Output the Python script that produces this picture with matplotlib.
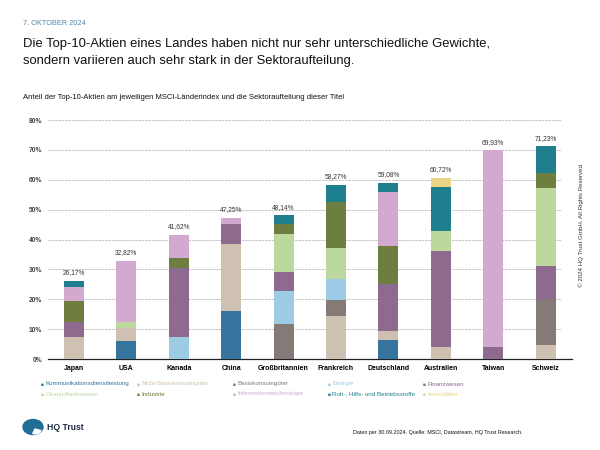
import matplotlib.pyplot as plt
import matplotlib.patches as mpatches
import numpy as np

plt.rcParams["font.family"] = ["Liberation Sans", "DejaVu Sans"]

countries = ["Japan", "USA", "Kanada", "China", "Großbritannien", "Frankreich",
             "Deutschland", "Australien", "Taiwan", "Schweiz"]
totals = [26.17, 32.82, 41.62, 47.25, 48.14, 58.27, 59.08, 60.72, 69.93, 71.23]

# Sektoranteile in Prozentpunkten (von unten nach oben gestapelt)
kommunikation = [0, 5.9, 0, 16.1, 0, 0, 6.4, 0, 0, 0]
nicht_basis   = [7.5, 4.5, 0, 22.3, 0, 14.3, 3.1, 3.9, 0, 4.6]
basis         = [0, 0, 0, 0, 11.7, 5.5, 0, 0, 0, 15.4]
energie       = [0, 0, 7.3, 0, 11.2, 7.0, 0, 0, 0, 0]
finanz        = [4.9, 0, 23.0, 6.8, 6.3, 0, 15.6, 32.1, 3.9, 11.1]
gesundheit    = [0, 2.1, 0, 0, 12.6, 10.2, 0, 7.0, 0, 26.0]
industrie     = [7.1, 0, 3.5, 0, 3.4, 15.6, 12.8, 0, 0, 5.3]
it            = [4.7, 20.32, 7.82, 2.05, 0, 0, 18.0, 0, 66.03, 0]
roh           = [1.97, 0, 0, 0, 2.94, 5.67, 3.18, 14.5, 0, 8.83]
immobilien    = [0, 0, 0, 0, 0, 0, 0, 3.22, 0, 0]

sectors = ["Kommunikationsdienstleistung", "Nicht-Basiskonsumgüter", "Basiskonsumgüter",
           "Energie", "Finanzwesen", "Gesundheitswesen", "Industrie",
           "Informationstechnologie", "Roh-, Hilfs- und Betriebsstoffe", "Immobilien"]
values = [kommunikation, nicht_basis, basis, energie, finanz, gesundheit,
          industrie, it, roh, immobilien]
colors = ["#37749d", "#cfc1b1", "#857a78", "#9dcbe3", "#8f6a8f",
          "#bdd89d", "#6e7e3e", "#d4a9cf", "#1f7f8f", "#e9d585"]

fig = plt.figure(figsize=(6, 4.5), dpi=100)
ax = fig.add_axes([0.0797, 0.2022, 0.8733, 0.5311])

x = np.arange(len(countries))
bottom = np.zeros(len(countries))
for vals, col in zip(values, colors):
    vals = np.array(vals)
    ax.bar(x, vals, 0.38, bottom=bottom, color=col, zorder=3)
    bottom += vals

for xi, t in zip(x, totals):
    ax.text(xi, t + 1.5, f"{t:.2f}%".replace(".", ","), ha="center", va="bottom",
            fontsize=4.8, color="#333333")

ax.set_xlim(-0.5, 9.5)
ax.set_ylim(0, 80)
ax.hlines(np.arange(10, 81, 10), -0.5, 9.3, color="#bbbbbb", lw=0.6,
          linestyles=(0, (3, 1)), zorder=1)
ax.set_yticks(np.arange(0, 81, 10))
ax.set_yticklabels([f"{v}%" for v in range(0, 81, 10)], fontsize=4.8, fontweight="bold",
                   color="#444444")
ax.set_xticks(x)
ax.set_xticklabels(countries, fontsize=5, fontweight="bold")
ax.tick_params(length=0, pad=4)
ax.tick_params(axis="y", pad=4)
for s in ["top", "right", "left"]:
    ax.spines[s].set_visible(False)
ax.spines["bottom"].set_color("#222222")
ax.spines["bottom"].set_linewidth(0.9)

# Legende: zwei Zeilen, fünf Spalten, Text in Serienfarbe
col_x = [40.7, 137, 233, 328, 423]
row_y = [384, 394]
for i, (name, col) in enumerate(zip(sectors, colors)):
    px = col_x[i % 5] / 600
    py = 1 - row_y[i // 5] / 450
    fig.text(px, py, "■", fontsize=3.5, color=col, va="center", ha="left")
    fig.text(px + 4.5 / 600, py, name, fontsize=4.5, color=col, va="center", ha="left")

# Kopfbereich
fig.text(23 / 600, 1 - 25 / 450, "7. OKTOBER 2024", fontsize=5.3, color="#4f86a6",
         va="baseline")
fig.text(23 / 600, 1 - 47 / 450,
         "Die Top-10-Aktien eines Landes haben nicht nur sehr unterschiedliche Gewichte,",
         fontsize=9.35, color="#111111", va="baseline")
fig.text(23 / 600, 1 - 64 / 450,
         "sondern variieren auch sehr stark in der Sektoraufteilung.",
         fontsize=9.35, color="#111111", va="baseline")
fig.text(23 / 600, 1 - 99 / 450,
         "Anteil der Top-10-Aktien am jeweiligen MSCI-Länderindex und die Sektoraufteilung dieser Titel",
         fontsize=5.5, color="#111111", va="baseline")

# Fußbereich
fig.text(523 / 600, 1 - 434 / 450,
         "Daten per 30.09.2024. Quelle: MSCI, Datastream, HQ Trust Research.",
         fontsize=3.9, color="#111111", ha="right", va="baseline")
fig.text(581 / 600, 1 - 225 / 450, "© 2024 HQ Trust GmbH. All Rights Reserved.",
         fontsize=4.4, color="#333333", rotation=90, ha="center", va="center")
fig.text(47 / 600, 1 - 427 / 450, "HQ Trust", fontsize=6.2, fontweight="bold",
         color="#1d2d44", va="center")
logo = mpatches.Circle((33 / 600, 1 - 427 / 450), 10 / 600, transform=fig.transFigure,
                       color="#1f6f94", zorder=5)
fig.patches.append(logo)
notch = mpatches.Wedge((35 / 600, 1 - 429 / 450), 6.5 / 600, 250, 340,
                       transform=fig.transFigure, color="white", zorder=6)
fig.patches.append(notch)

fig.savefig("out.png", dpi=100)
